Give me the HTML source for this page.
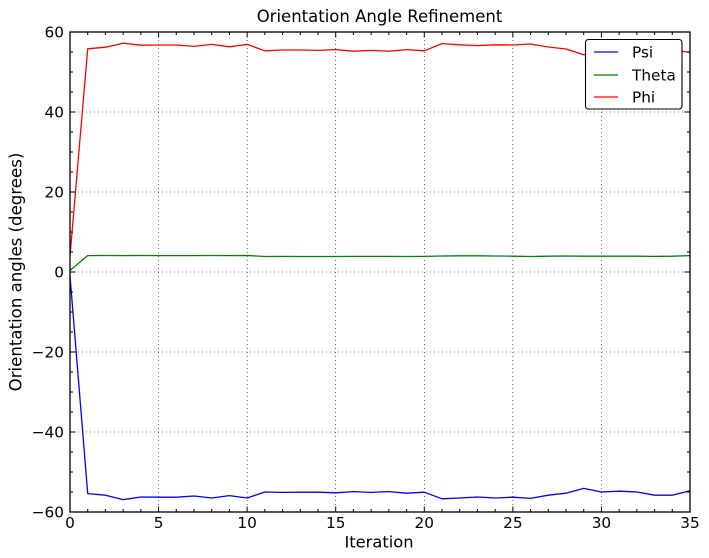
<!DOCTYPE html>
<html>
<head>
<meta charset="utf-8">
<style>
html,body{margin:0;padding:0;background:#fff;}
svg{display:block;}
text{font-family:"DejaVu Sans","Liberation Sans",sans-serif;fill:#000;}
</style>
</head>
<body>
<svg width="709" height="558" viewBox="0 0 709 558" xmlns="http://www.w3.org/2000/svg">
<rect x="0" y="0" width="709" height="558" fill="#fff"/>
<defs>
<clipPath id="clip"><rect x="70" y="32" width="620" height="480"/></clipPath>
</defs>
<!-- grid -->
<g stroke="#000" stroke-width="0.6" stroke-dasharray="1,3" fill="none">
<line x1="158.57" y1="32" x2="158.57" y2="512"/>
<line x1="247.14" y1="32" x2="247.14" y2="512"/>
<line x1="335.71" y1="32" x2="335.71" y2="512"/>
<line x1="424.29" y1="32" x2="424.29" y2="512"/>
<line x1="512.86" y1="32" x2="512.86" y2="512"/>
<line x1="601.43" y1="32" x2="601.43" y2="512"/>
<line x1="70" y1="112" x2="690" y2="112"/>
<line x1="70" y1="192" x2="690" y2="192"/>
<line x1="70" y1="272" x2="690" y2="272"/>
<line x1="70" y1="352" x2="690" y2="352"/>
<line x1="70" y1="432" x2="690" y2="432"/>
</g>
<!-- series -->
<g clip-path="url(#clip)" fill="none" stroke-width="1.3" stroke-linejoin="round">
<polyline stroke="#0000ff" points="70,276 87.71,493.6 105.43,495.2 123.14,499.6 140.86,497 158.57,497.2 176.29,497.2 194,496 211.71,498 229.43,495.6 247.14,498 264.86,492 282.57,492.4 300.29,492.2 318,492.2 335.71,492.8 353.43,491.6 371.14,492.4 388.86,491.6 406.57,493.2 424.29,492.2 442,498.8 459.71,498 477.43,497 495.14,498 512.86,497.2 530.57,498.4 548.29,495.2 566,493.2 583.71,488.4 601.43,492 619.14,491.2 636.86,492 654.57,495.2 672.29,495.2 690,490.8"/>
<polyline stroke="#008000" points="70,270.4 87.71,255.6 105.43,255.5 123.14,255.6 140.86,255.5 158.57,255.6 176.29,255.6 194,255.6 211.71,255.5 229.43,255.6 247.14,255.5 264.86,256.5 282.57,256.4 300.29,256.5 318,256.5 335.71,256.5 353.43,256.4 371.14,256.4 388.86,256.4 406.57,256.5 424.29,256.4 442,256 459.71,255.8 477.43,255.8 495.14,256 512.86,256.2 530.57,256.5 548.29,256.2 566,256 583.71,256.2 601.43,256.2 619.14,256.2 636.86,256.2 654.57,256.4 672.29,256.2 690,255.6"/>
<polyline stroke="#ff0000" points="70,256 87.71,48.8 105.43,47.2 123.14,43.2 140.86,45.2 158.57,45 176.29,45 194,46.4 211.71,44.4 229.43,46.8 247.14,44.4 264.86,50.8 282.57,50 300.29,50 318,50.4 335.71,49.6 353.43,51.2 371.14,50.4 388.86,51.2 406.57,49.6 424.29,50.8 442,43.6 459.71,44.8 477.43,45.6 495.14,44.8 512.86,45 530.57,44 548.29,47 566,49 583.71,54.8 601.43,52 619.14,51.2 636.86,52 654.57,50.8 672.29,50 690,52.4"/>
</g>
<!-- ticks -->
<g stroke="#000" stroke-width="1" fill="none">
<path d="M87.71,512v-3M105.43,512v-3M123.14,512v-3M140.86,512v-3M176.29,512v-3M194,512v-3M211.71,512v-3M229.43,512v-3M264.86,512v-3M282.57,512v-3M300.29,512v-3M318,512v-3M353.43,512v-3M371.14,512v-3M388.86,512v-3M406.57,512v-3M442,512v-3M459.71,512v-3M477.43,512v-3M495.14,512v-3M530.57,512v-3M548.29,512v-3M566,512v-3M583.71,512v-3M619.14,512v-3M636.86,512v-3M654.57,512v-3M672.29,512v-3"/>
<path d="M87.71,32v3M105.43,32v3M123.14,32v3M140.86,32v3M176.29,32v3M194,32v3M211.71,32v3M229.43,32v3M264.86,32v3M282.57,32v3M300.29,32v3M318,32v3M353.43,32v3M371.14,32v3M388.86,32v3M406.57,32v3M442,32v3M459.71,32v3M477.43,32v3M495.14,32v3M530.57,32v3M548.29,32v3M566,32v3M583.71,32v3M619.14,32v3M636.86,32v3M654.57,32v3M672.29,32v3"/>
<path d="M158.57,512v-5.5M247.14,512v-5.5M335.71,512v-5.5M424.29,512v-5.5M512.86,512v-5.5M601.43,512v-5.5"/>
<path d="M158.57,32v5.5M247.14,32v5.5M335.71,32v5.5M424.29,32v5.5M512.86,32v5.5M601.43,32v5.5"/>
<path d="M70,112h5.5M70,192h5.5M70,272h5.5M70,352h5.5M70,432h5.5"/>
<path d="M690,112h-5.5M690,192h-5.5M690,272h-5.5M690,352h-5.5M690,432h-5.5"/>
<path d="M70,52h3M70,72h3M70,92h3M70,132h3M70,152h3M70,172h3M70,212h3M70,232h3M70,252h3M70,292h3M70,312h3M70,332h3M70,372h3M70,392h3M70,412h3M70,452h3M70,472h3M70,492h3"/>
<path d="M690,52h-3M690,72h-3M690,92h-3M690,132h-3M690,152h-3M690,172h-3M690,212h-3M690,232h-3M690,252h-3M690,292h-3M690,312h-3M690,332h-3M690,372h-3M690,392h-3M690,412h-3M690,452h-3M690,472h-3M690,492h-3"/>
</g>
<rect x="70" y="32" width="620" height="480" fill="none" stroke="#000" stroke-width="1.3"/>
<!-- tick labels -->
<g font-size="15.3" text-anchor="middle">
<text x="70" y="528">0</text>
<text x="158.57" y="528">5</text>
<text x="247.14" y="528">10</text>
<text x="335.71" y="528">15</text>
<text x="424.29" y="528">20</text>
<text x="512.86" y="528">25</text>
<text x="601.43" y="528">30</text>
<text x="690" y="528">35</text>
</g>
<g font-size="15.3" text-anchor="end">
<text x="64" y="37.5">60</text>
<text x="64" y="117.5">40</text>
<text x="64" y="197.5">20</text>
<text x="64" y="277.5">0</text>
<text x="64" y="357.5">−20</text>
<text x="64" y="437.5">−40</text>
<text x="64" y="517.5">−60</text>
</g>
<!-- labels -->
<text x="379.5" y="22" font-size="16.5" text-anchor="middle">Orientation Angle Refinement</text>
<text x="379" y="547.5" font-size="16.3" text-anchor="middle">Iteration</text>
<text transform="translate(21.5,272) rotate(-90)" font-size="16.6" text-anchor="middle">Orientation angles (degrees)</text>
<!-- legend -->
<rect x="585.5" y="39.5" width="96.5" height="69.5" rx="3" ry="3" fill="#fff" stroke="#000" stroke-width="1.1"/>
<line x1="594" y1="52" x2="618" y2="52" stroke="#0000ff" stroke-width="1.3"/>
<line x1="594" y1="75" x2="618" y2="75" stroke="#008000" stroke-width="1.3"/>
<line x1="594" y1="97" x2="618" y2="97" stroke="#ff0000" stroke-width="1.3"/>
<g font-size="15.3">
<text x="632" y="57.5">Psi</text>
<text x="632" y="80.5">Theta</text>
<text x="632" y="102.5">Phi</text>
</g>
</svg>
</body>
</html>
